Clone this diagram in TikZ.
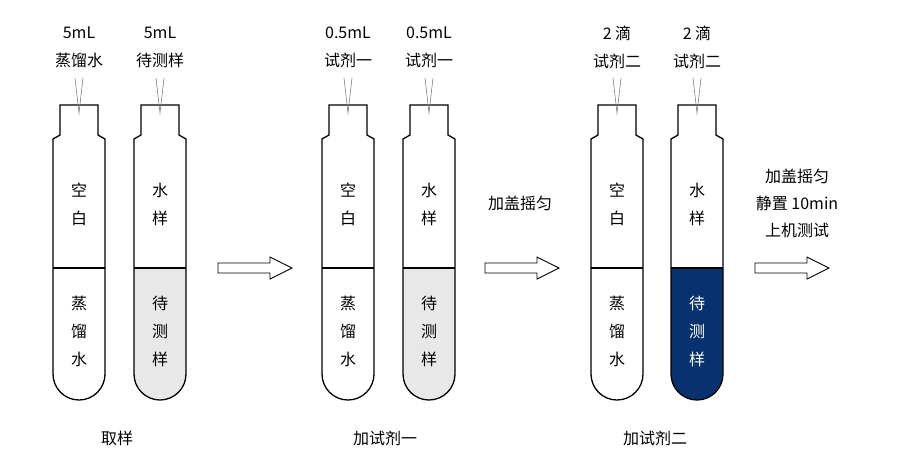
\documentclass[tikz,border=0pt]{standalone}
\usepackage{fontspec}
\newfontfamily\cjk{Noto Sans CJK SC}
\definecolor{dblue}{RGB}{8,50,110}
\begin{document}
\begin{tikzpicture}[x=1pt,y=-1pt,
  lbl/.style={font=\cjk\fontsize{16}{28}\selectfont,align=center,inner sep=0pt},
  tubeline/.style={draw=black,line width=1.3pt},
  needle/.style={draw=gray,line width=0.6pt}]
\useasboundingbox (0,0) rectangle (900,475);
\newcommand{\tube}[3]{% center x, fill color, name
  \begin{scope}[shift={(#1,0)}]
  \fill[#2] (-26,268) -- (26,268) -- (26,374) arc[start angle=0,end angle=180,radius=26] -- cycle;
  \draw[tubeline] (-19,105) -- (19,105) -- (19,135) -- (26,139) -- (26,374)
     arc[start angle=0,end angle=180,radius=26] -- (-26,139) -- (-19,135) -- cycle;
  \draw[tubeline] (-26,268) -- (26,268);
  \draw[needle] (-4,78) -- (0,113) -- (4,78);
  \coordinate (#3) at (0,0);
  \end{scope}}
\newcommand{\harrow}[1]{%
  \draw[line width=0.9pt] (#1,263) -- (#1+52,263) -- (#1+52,257) -- (#1+74,268) -- (#1+52,279) -- (#1+52,273) -- (#1,273) -- cycle;}
\tube{79}{white}{t1}
\tube{160}{black!9}{t2}
\tube{348}{white}{t3}
\tube{429}{black!9}{t4}
\tube{617}{white}{t5}
\tube{697}{dblue}{t6}
% top labels
\node[lbl] (a1) at (79,47) {5mL\\蒸馏水};
\node[lbl] (a2) at (160,47) {5mL\\待测样};
\node[lbl] (a3) at (348,47) {0.5mL\\试剂一};
\node[lbl] (a4) at (429,47) {0.5mL\\试剂一};
\node[lbl] (a5) at (617,47) {2 滴\\试剂二};
\node[lbl] (a6) at (697,47) {2 滴\\试剂二};
% inner labels
\foreach \x/\n in {79/b1,348/b3,617/b5}{
  \node[lbl] (\n u) at (\x,204) {空\\白};
  \node[lbl] (\n l) at (\x,331) {蒸\\馏\\水};}
\foreach \x/\n in {160/b2,429/b4}{
  \node[lbl] (\n u) at (\x,204) {水\\样};
  \node[lbl] (\n l) at (\x,331) {待\\测\\样};}
\node[lbl] (b6u) at (697,204) {水\\样};
\node[lbl,text=white] (b6l) at (697,331) {待\\测\\样};
% arrows
\harrow{218}
\harrow{485}
\harrow{755}
\node[lbl] (c1) at (520,203) {加盖摇匀};
\node[lbl] (c2) at (797,203) {加盖摇匀\\[-1pt]静置 10min\\[-1pt]上机测试};
% bottom labels
\node[lbl] (d1) at (117,438) {取样};
\node[lbl] (d2) at (385,438) {加试剂一};
\node[lbl] (d3) at (655,438) {加试剂二};
\end{tikzpicture}
\end{document}
